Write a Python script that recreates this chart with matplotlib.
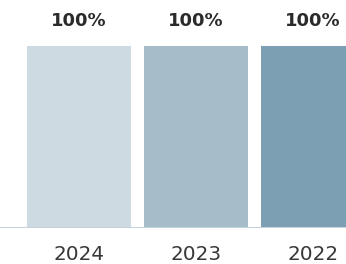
import matplotlib.pyplot as plt

# chart data
years = ['2024', '2023', '2022']
values = [100, 100, 100]
labels = ['100%', '100%', '100%']
colors = ['#cddae2', '#a6bcc9', '#7c9fb3']

plt.rcParams['font.family'] = ['DejaVu Sans']

fig = plt.figure(figsize=(3.46, 2.64), dpi=100)
ax = fig.add_axes([0, 36 / 264, 1, 182 / 264])

x = range(len(years))
bars = ax.bar(x, values, width=0.89, color=colors)

for xi, v, lab in zip(x, values, labels):
    ax.text(xi, v + 11, lab, ha='center', va='baseline', fontsize=13,
            fontweight='bold', color='#2b2b2b', clip_on=False)
    ax.text(xi, -17.6, years[xi], ha='center', va='baseline', fontsize=14.4,
            color='#383838', clip_on=False)

ax.axhline(0, color='#c3d2dd', linewidth=1.5)
ax.set_xlim(-0.675, 2.28)
ax.set_ylim(0, 100)
ax.axis('off')

fig.savefig('out.png', dpi=100)
